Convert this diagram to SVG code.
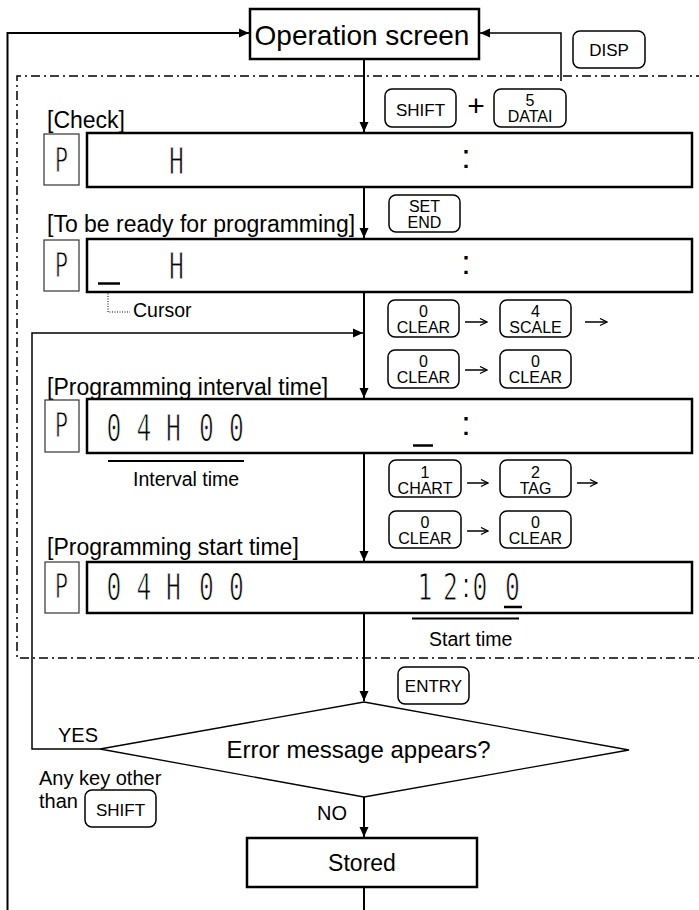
<svg xmlns="http://www.w3.org/2000/svg" width="699" height="910" viewBox="0 0 699 910">
<style>
text{font-family:"Liberation Sans",Arial,sans-serif;fill:#000}
.lbl{font-size:23px}
.sm{font-size:19.5px}
.box{fill:#fff;stroke:#000;stroke-width:2.5}
.pbox{fill:#fff;stroke:#333;stroke-width:1.2}
.key{fill:#fff;stroke:#000;stroke-width:1.5}
.kt{font-size:17px;text-anchor:middle}
.k2{font-size:16px;text-anchor:middle}
.seg{font-family:"DejaVu Sans Mono",monospace;font-size:38px;text-anchor:middle;stroke:#fff;stroke-width:1}
.segp{font-family:"DejaVu Sans Mono",monospace;font-size:34px;text-anchor:middle;stroke:#fff;stroke-width:1}
.col{font-size:34px;text-anchor:middle}
.segc{font-family:"Liberation Sans",Arial,sans-serif;font-size:34px;stroke:none}
.ln{fill:none;stroke:#000;stroke-width:2}
.thin{fill:none;stroke:#000;stroke-width:1.5}
.ka{fill:none;stroke:#000;stroke-width:1.5}
</style>
<defs>
<marker id="arr" markerUnits="userSpaceOnUse" markerWidth="11" markerHeight="10" refX="10" refY="5" orient="auto">
<path d="M0,0.5 L10,5 L0,9.5 z" fill="#000"/>
</marker>
<marker id="karr" markerUnits="userSpaceOnUse" markerWidth="9" markerHeight="9" refX="8" refY="4" orient="auto">
<path d="M1,0.5 L8,4 L1,7.5" fill="none" stroke="#000" stroke-width="1.3"/>
</marker>
</defs>

<!-- dash-dot region -->
<path d="M705,76 H17 V658 H705" fill="none" stroke="#000" stroke-width="1.5" stroke-dasharray="9,4,2,4"/>

<g id="connectors">
<path class="ln" d="M7.5,910 V33 H249" marker-end="url(#arr)"/>
<path class="thin" d="M561,81 V33 H480" marker-end="url(#arr)"/>
<path class="ln" d="M364,59 V132" marker-end="url(#arr)"/>
<path class="ln" d="M364,187 V238" marker-end="url(#arr)"/>
<path class="ln" d="M364,292 V398" marker-end="url(#arr)"/>
<path class="thin" d="M100,749 H32 V333 H363" marker-end="url(#arr)"/>
<path class="ln" d="M364,453 V561" marker-end="url(#arr)"/>
<path class="ln" d="M364,613 V701" marker-end="url(#arr)"/>
<path class="ln" d="M364,797 V837" marker-end="url(#arr)"/>
<path class="ln" d="M364,887 V910"/>
<path d="M108,286 V312 H130" fill="none" stroke="#000" stroke-width="1" stroke-dasharray="1,1.5"/>
<line class="ka" x1="465" y1="322" x2="487" y2="322" marker-end="url(#karr)"/>
<line class="ka" x1="585" y1="322" x2="607" y2="322" marker-end="url(#karr)"/>
<line class="ka" x1="465" y1="370" x2="487" y2="370" marker-end="url(#karr)"/>
<line class="ka" x1="467" y1="483" x2="488" y2="483" marker-end="url(#karr)"/>
<line class="ka" x1="577" y1="483" x2="597" y2="483" marker-end="url(#karr)"/>
<line class="ka" x1="467" y1="531" x2="488" y2="531" marker-end="url(#karr)"/>
</g>

<g id="operation-screen">
<rect class="box" x="250" y="9" width="229" height="50"/>
<text x="362" y="45" font-size="28" text-anchor="middle">Operation screen</text>
</g>

<g id="key-disp">
<rect class="key" x="573" y="31" width="72" height="37" rx="7"/>
<text class="kt" x="609" y="56" font-size="18">DISP</text>
</g>

<g id="key-shift-data">
<rect class="key" x="385" y="89" width="71" height="38" rx="7"/>
<text class="kt" x="420.5" y="116">SHIFT</text>
<text x="476" y="116" font-size="30" text-anchor="middle">+</text>
<rect class="key" x="494" y="89" width="72" height="38" rx="7"/>
<text class="k2"><tspan x="530" y="106">5</tspan><tspan x="530" y="121.5">DATAI</tspan></text>
</g>

<g id="display-check">
<text class="lbl" x="47" y="128">[Check]</text>
<rect class="pbox" x="44" y="134" width="35" height="51"/>
<rect class="box" x="87" y="133" width="605" height="54"/>
<g transform="scale(0.65,1)">
<text class="segp" x="94.6" y="172">P</text>
<text class="seg" x="271.5" y="174">H</text>
</g>
<text class="col" x="466" y="168">:</text>
</g>

<g id="key-set-end">
<rect class="key" x="389" y="195" width="71" height="37" rx="7"/>
<text class="k2"><tspan x="424.5" y="212">SET</tspan><tspan x="424.5" y="227.5">END</tspan></text>
</g>

<g id="display-ready">
<text class="lbl" x="47" y="232">[To be ready for programming]</text>
<rect class="pbox" x="44" y="240" width="35" height="51"/>
<rect class="box" x="87" y="239" width="605" height="53"/>
<g transform="scale(0.65,1)">
<text class="segp" x="94.6" y="277">P</text>
<text class="seg" x="271.5" y="279">H</text>
</g>
<text class="col" x="466" y="274">:</text>
<line x1="98" y1="283.5" x2="120" y2="283.5" stroke="#000" stroke-width="2.5"/>
<text class="sm" x="133" y="317" font-size="19">Cursor</text>
</g>

<g id="keys-interval">
<rect class="key" x="388" y="300" width="71" height="37" rx="7"/>
<text class="k2"><tspan x="423.5" y="317">0</tspan><tspan x="423.5" y="332.5">CLEAR</tspan></text>
<rect class="key" x="500" y="300" width="71" height="37" rx="7"/>
<text class="k2"><tspan x="535.5" y="317">4</tspan><tspan x="535.5" y="332.5">SCALE</tspan></text>
<rect class="key" x="388" y="350" width="71" height="38" rx="7"/>
<text class="k2"><tspan x="423.5" y="367">0</tspan><tspan x="423.5" y="382.5">CLEAR</tspan></text>
<rect class="key" x="500" y="350" width="71" height="38" rx="7"/>
<text class="k2"><tspan x="535.5" y="367">0</tspan><tspan x="535.5" y="382.5">CLEAR</tspan></text>
</g>

<g id="display-interval">
<text class="lbl" x="47" y="395">[Programming interval time]</text>
<rect class="pbox" x="45" y="400" width="34" height="52"/>
<rect class="box" x="87" y="399" width="605" height="54"/>
<g transform="scale(0.65,1)">
<text class="segp" x="94.6" y="437">P</text>
<text class="seg" x="175.4 221.5 266.9 317.7 363.8" y="441">04H00</text>
</g>
<text class="col" x="466" y="434.5">:</text>
<line x1="413" y1="445.5" x2="433" y2="445.5" stroke="#000" stroke-width="2.5"/>
<line x1="108" y1="461" x2="244" y2="461" stroke="#000" stroke-width="2"/>
<text class="sm" x="133" y="486">Interval time</text>
</g>

<g id="keys-start">
<rect class="key" x="389" y="460" width="72" height="37" rx="7"/>
<text class="k2"><tspan x="425" y="478">1</tspan><tspan x="425" y="493.5">CHART</tspan></text>
<rect class="key" x="500" y="460" width="71" height="37" rx="7"/>
<text class="k2"><tspan x="535.5" y="478">2</tspan><tspan x="535.5" y="493.5">TAG</tspan></text>
<rect class="key" x="389" y="511" width="72" height="37" rx="7"/>
<text class="k2"><tspan x="425" y="528">0</tspan><tspan x="425" y="543.5">CLEAR</tspan></text>
<rect class="key" x="500" y="511" width="71" height="37" rx="7"/>
<text class="k2"><tspan x="535.5" y="528">0</tspan><tspan x="535.5" y="543.5">CLEAR</tspan></text>
</g>

<g id="display-start">
<text class="lbl" x="47" y="555">[Programming start time]</text>
<rect class="pbox" x="45" y="562" width="34" height="51"/>
<rect class="box" x="87" y="562" width="605" height="51"/>
<g transform="scale(0.65,1)">
<text class="segp" x="94.6" y="598">P</text>
<text class="seg" x="175.4 221.5 266.9 317.7 363.8" y="600">04H00</text>
<text class="seg" x="653.8 693.1" y="600">12<tspan class="segc" x="716.9" y="597">:</tspan><tspan x="738.5 788.5" y="600">00</tspan></text>
</g>
<line x1="504" y1="607" x2="522" y2="607" stroke="#000" stroke-width="2.5"/>
<line x1="412" y1="618.5" x2="519" y2="618.5" stroke="#000" stroke-width="2"/>
<text class="sm" x="429" y="646">Start time</text>
</g>

<g id="key-entry">
<rect class="key" x="398" y="667" width="71" height="37" rx="7"/>
<text class="kt" x="433.5" y="691.5" font-size="18">ENTRY</text>
</g>

<g id="decision">
<path d="M364,702 L629,750 L364,797 L100,749 Z" fill="#fff" stroke="#000" stroke-width="1.3"/>
<text x="358.5" y="758" font-size="24" text-anchor="middle">Error message appears?</text>
<text x="58" y="742" font-size="20">YES</text>
<text x="317" y="820" font-size="20">NO</text>
<text x="39" y="785" font-size="20">Any key other</text>
<text x="39" y="808" font-size="20">than</text>
<rect class="key" x="85" y="790" width="71" height="37" rx="7"/>
<text class="kt" x="120.5" y="816" font-size="18">SHIFT</text>
</g>

<g id="stored">
<rect class="box" x="247" y="838" width="230" height="49"/>
<text x="362" y="871" font-size="23" text-anchor="middle">Stored</text>
</g>
</svg>
